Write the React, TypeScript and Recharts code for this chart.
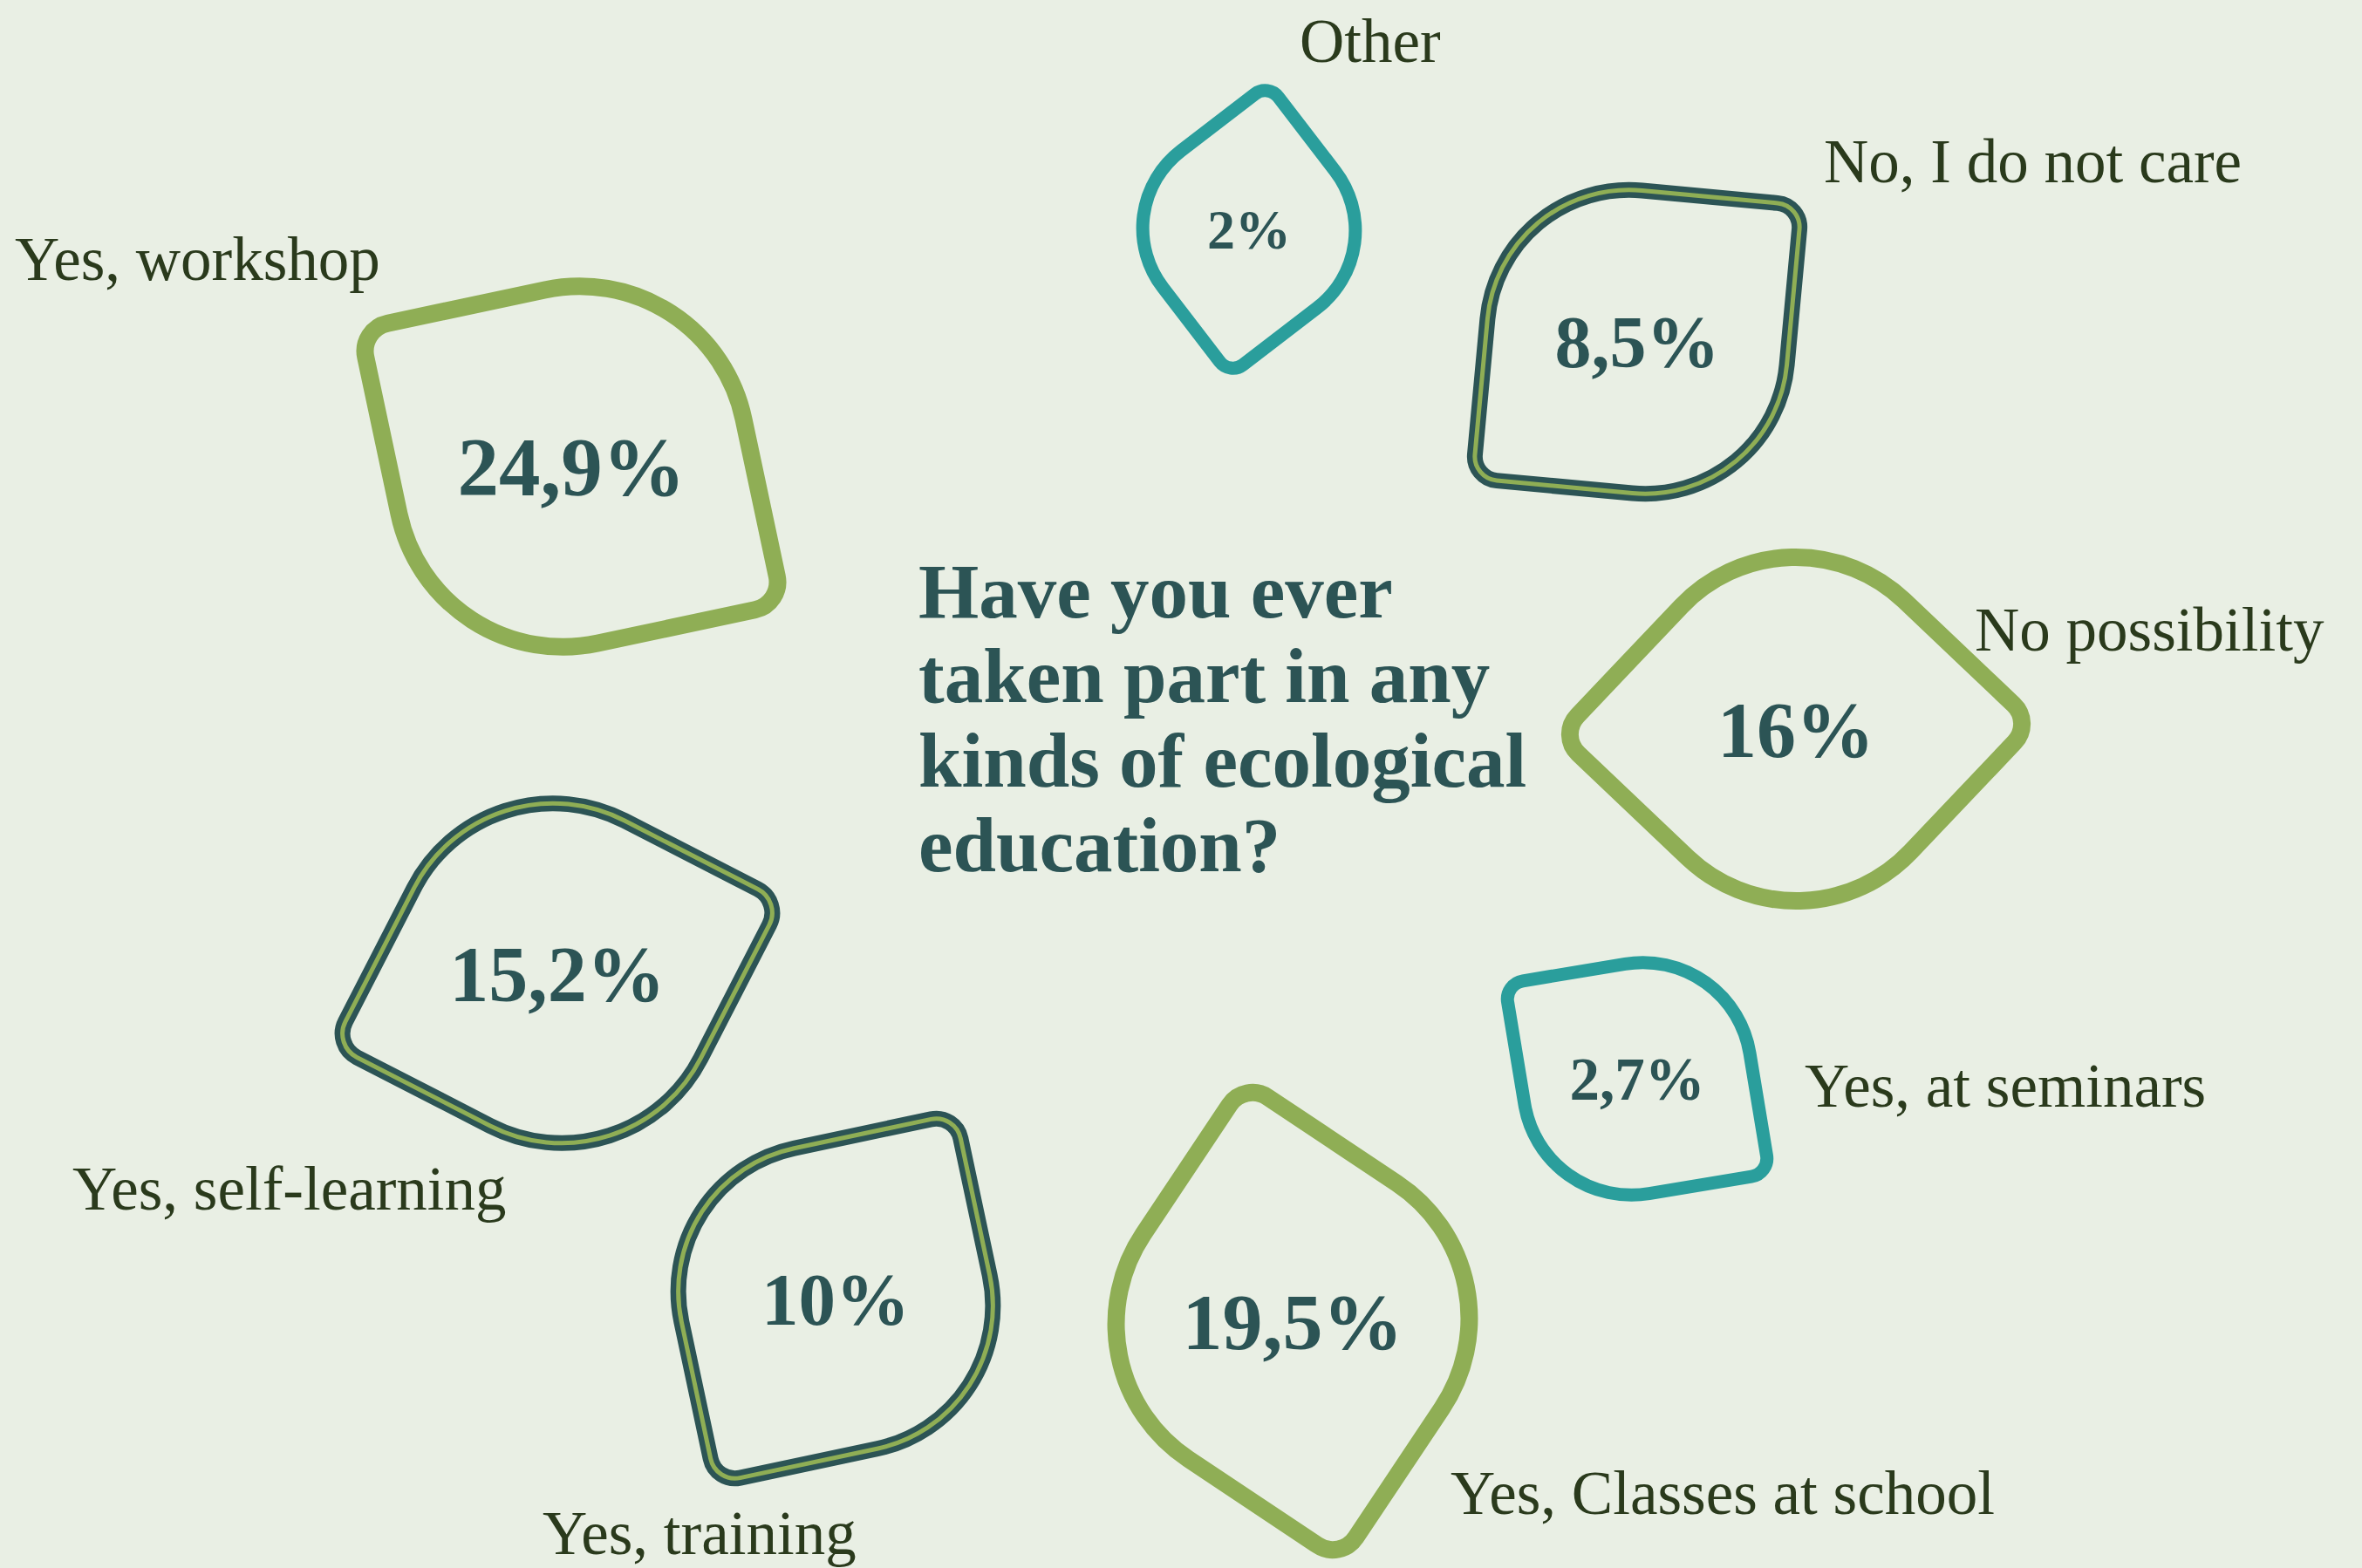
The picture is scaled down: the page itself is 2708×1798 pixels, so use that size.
import { ScatterChart, Scatter, XAxis, YAxis, ZAxis } from "recharts";

const W = 2708;
const H = 1798;

const CATEGORIES = [
  "Other",
  "No, I do not care",
  "No possibility",
  "Yes, at seminars",
  "Yes, Classes at school",
  "Yes, training",
  "Yes, self-learning",
  "Yes, workshop",
];
const VALUES = [2, 8.5, 16, 2.7, 19.5, 10, 15.2, 24.9];
const VALUE_LABELS = ["2%", "8,5%", "16%", "2,7%", "19,5%", "10%", "15,2%", "24,9%"];

// where each leaf sits on the page (axis units = page pixels)
const POS_X = [1432, 1877, 2059, 1877, 1482, 958, 639, 655];
const POS_Y = [263, 392, 836, 1237, 1515, 1489, 1116, 535];
const TIP_ANGLE = [-82.5, -39.7, -1.5, 35.6, 78.7, -57, -17.8, 33];
const OUTLINE = ["teal", "double", "green", "teal", "green", "double", "double", "green"];
const LABEL_X = [1490, 2091, 2264, 2069, 1663, 622, 83, 17];
const LABEL_Y = [71, 209, 746, 1269, 1736, 1782, 1387, 321];

const TITLE_LINES = ["Have you ever", "taken part in any", "kinds of ecological", "education?"];

const BG = "#e9efe4";
const GREEN = "#8fae55";
const TEAL = "#2a9e9c";
const DARK = "#2c5455";
const LABEL_COLOR = "#2a3a1c";

const data = CATEGORIES.map((name, i) => ({
  name,
  value: VALUES[i],
  valueLabel: VALUE_LABELS[i],
  x: POS_X[i],
  y: POS_Y[i],
  tip: TIP_ANGLE[i],
  outline: OUTLINE[i],
  lx: LABEL_X[i],
  ly: LABEL_Y[i],
}));

function leafPath(s: number) {
  const h = s / 2;
  const R = s * 0.47;
  const r = s * 0.08;
  return [
    `M ${-h + r} ${-h}`,
    `L ${h - R} ${-h}`,
    `A ${R} ${R} 0 0 1 ${h} ${-h + R}`,
    `L ${h} ${h - r}`,
    `A ${r} ${r} 0 0 1 ${h - r} ${h}`,
    `L ${-h + R} ${h}`,
    `A ${R} ${R} 0 0 1 ${-h} ${h - R}`,
    `L ${-h} ${-h + r}`,
    `A ${r} ${r} 0 0 1 ${-h + r} ${-h}`,
    "Z",
  ].join(" ");
}

const LeafShape = (props: any) => {
  const { cx, cy, width, payload } = props;
  const s = width || 300;
  const d = leafPath(s);
  const rot = payload.tip - 45;
  const fontSize = Math.round(1.06 * (20 + 0.17 * s));
  return (
    <g>
      <g transform={`translate(${cx},${cy}) rotate(${rot})`}>
        {payload.outline === "double" ? (
          <>
            <path d={d} fill="none" stroke={DARK} strokeWidth={18} strokeLinejoin="round" />
            <path d={d} fill="none" stroke={GREEN} strokeWidth={5} strokeLinejoin="round" />
          </>
        ) : (
          <path
            d={d}
            fill="none"
            stroke={payload.outline === "teal" ? TEAL : GREEN}
            strokeWidth={payload.outline === "teal" ? 15 : 20}
            strokeLinejoin="round"
          />
        )}
      </g>
      <text
        x={cx}
        y={cy}
        dy="0.35em"
        textAnchor="middle"
        fill={DARK}
        fontFamily="'Liberation Serif', serif"
        fontWeight={700}
        fontSize={fontSize}
      >
        {payload.valueLabel}
      </text>
      <text
        x={payload.lx}
        y={payload.ly}
        fill={LABEL_COLOR}
        fontFamily="'Liberation Serif', serif"
        fontSize={71}
      >
        {payload.name}
      </text>
    </g>
  );
};

export default function App() {
  return (
    <div style={{ position: "fixed", left: 0, top: 0, width: W, height: H, background: BG, overflow: "hidden" }}>
      <ScatterChart width={W} height={H} margin={{ top: 0, right: 0, bottom: 0, left: 0 }}>
        <XAxis dataKey="x" type="number" domain={[0, W]} hide />
        <YAxis dataKey="y" type="number" domain={[0, H]} reversed hide />
        <ZAxis dataKey="value" type="number" scale="log" domain={[2, 24.9]} range={[44488, 131382]} />
        <Scatter data={data} shape={LeafShape} isAnimationActive={false} />
      </ScatterChart>
      <svg width={W} height={H} style={{ position: "absolute", left: 0, top: 0, pointerEvents: "none" }}>
        <text fill={DARK} fontFamily="'Liberation Serif', serif" fontWeight={700} fontSize={89}>
          {TITLE_LINES.map((line, i) => (
            <tspan key={i} x={1053} y={708 + i * 97}>
              {line}
            </tspan>
          ))}
        </text>
      </svg>
    </div>
  );
}
